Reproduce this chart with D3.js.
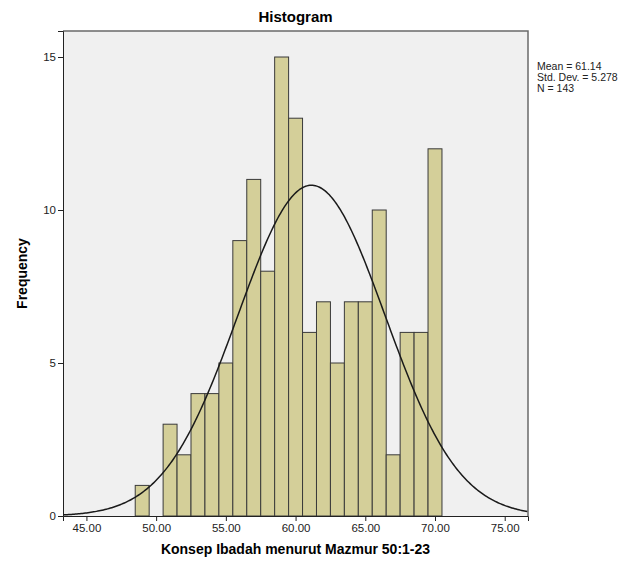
<!DOCTYPE html>
<meta charset="utf-8">
<style>
body { margin: 0; background: #fff; font-family: "Liberation Sans", Arial, sans-serif; }
.bar { fill: #d4cf99; stroke: #3a3a3a; stroke-width: 1; }
.curve { fill: none; stroke: #1a1a1a; stroke-width: 1.5; }
.axis text { font-size: 11.5px; fill: #222; font-family: "Liberation Sans", Arial, sans-serif; }
.axis path, .axis line { stroke: #222; }
</style>
<body>
<div id="chart"></div>
<script src="https://d3js.org/d3.v7.min.js"></script>
<script>
// bin centres (width 1) and counts
var binCenters = [49, 50, 51, 52, 53, 54, 55, 56, 57, 58, 59, 60, 61, 62, 63, 64, 65, 66, 67, 68, 69, 70];
var counts     = [ 1,  0,  3,  2,  4,  4,  5,  9, 11,  8, 15, 13,  6,  7,  5,  7,  7, 10,  2,  6,  6, 12];
var xTicks = [45, 50, 55, 60, 65, 70, 75];
var yTicks = [0, 5, 10, 15];
var stats = ["Mean = 61.14", "Std. Dev. = 5.278", "N = 143"];
var mean = 61.14, sd = 5.278, n = 143, binWidth = 1;

var W = 632, H = 570;
var margin = { top: 31, right: 104, bottom: 54, left: 63 };
var width = W - margin.left - margin.right,
    height = H - margin.top - margin.bottom;

var svg = d3.select("#chart").append("svg")
    .attr("width", W).attr("height", H);

var x = d3.scaleLinear().domain([43.32, 76.67]).range([0, width]);
var y = d3.scaleLinear().domain([0, 15.85]).range([height, 0]);

var g = svg.append("g").attr("transform", "translate(" + margin.left + "," + margin.top + ")");

// plot background + border
g.append("rect").attr("width", width).attr("height", height).attr("fill", "#f0f0f0");
g.append("path")
    .attr("d", "M0,0H" + width + "V" + height)
    .attr("fill", "none").attr("stroke", "#6a6a6a").attr("stroke-width", 1.5);

// bars
g.selectAll(".bar")
    .data(binCenters.map(function(c, i) { return { c: c, v: counts[i] }; }).filter(function(d) { return d.v > 0; }))
  .enter().append("rect")
    .attr("class", "bar")
    .attr("x", function(d) { return x(d.c - binWidth / 2); })
    .attr("width", function(d) { return x(d.c + binWidth / 2) - x(d.c - binWidth / 2); })
    .attr("y", function(d) { return y(d.v); })
    .attr("height", function(d) { return y(0) - y(d.v); });

// normal curve
var xs = d3.range(x.domain()[0], x.domain()[1] + 0.01, 0.1);
var line = d3.line()
    .x(function(d) { return x(d); })
    .y(function(d) {
        var z = (d - mean) / sd;
        return y(n * binWidth * Math.exp(-0.5 * z * z) / (sd * Math.sqrt(2 * Math.PI)));
    });
g.append("path").datum(xs).attr("class", "curve").attr("d", line);

// axes
g.append("g").attr("class", "axis")
    .attr("transform", "translate(0," + height + ")")
    .call(d3.axisBottom(x).tickValues(xTicks).tickFormat(d3.format(".2f")).tickSizeOuter(0).tickSize(5).tickPadding(3));
g.append("g").attr("class", "axis")
    .call(d3.axisLeft(y).tickValues(yTicks).tickSizeOuter(0).tickSize(5).tickPadding(2));

// titles
svg.append("text").attr("x", margin.left + width / 2).attr("y", 22)
    .attr("text-anchor", "middle").attr("font-size", 15).attr("font-weight", "bold")
    .text("Histogram");
svg.append("text").attr("x", margin.left + width / 2).attr("y", 554)
    .attr("text-anchor", "middle").attr("font-size", 14).attr("font-weight", "bold")
    .text("Konsep Ibadah menurut Mazmur 50:1-23");
svg.append("text")
    .attr("transform", "translate(27," + (margin.top + height / 2) + ") rotate(-90)")
    .attr("text-anchor", "middle").attr("font-size", 14).attr("font-weight", "bold")
    .text("Frequency");

// stats legend
svg.append("g").selectAll("text").data(stats).enter().append("text")
    .attr("x", 537).attr("y", function(d, i) { return 70 + i * 11; })
    .attr("font-size", 10.5).attr("fill", "#222")
    .text(function(d) { return d; });
</script>
</body>
